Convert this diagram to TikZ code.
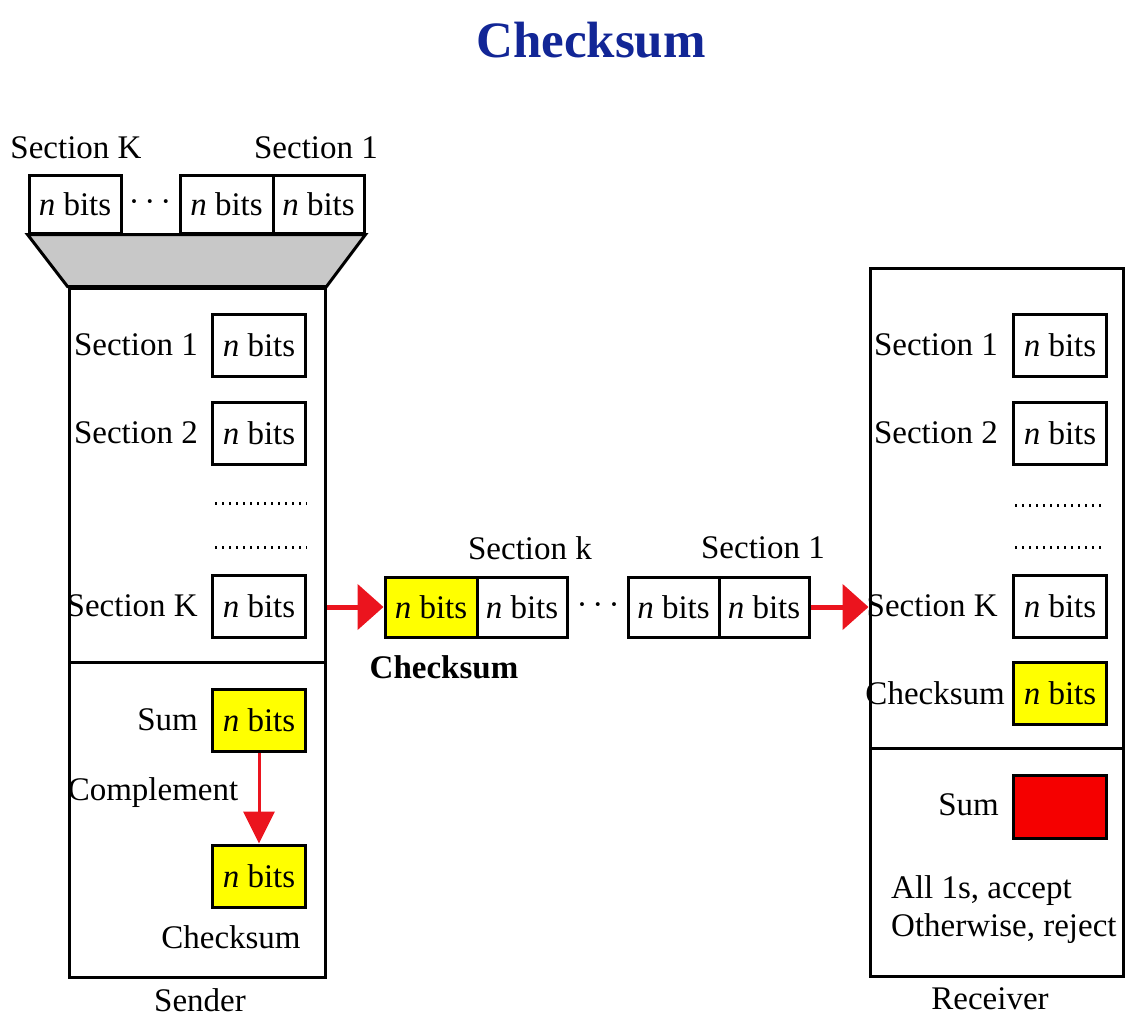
\documentclass[tikz,border=0pt]{standalone}
\usepackage{fontspec}
\setmainfont{Liberation Serif}
\usetikzlibrary{arrows.meta}

\definecolor{titleblue}{RGB}{18,38,150}
\definecolor{boxyellow}{RGB}{255,255,0}
\definecolor{arrowred}{RGB}{235,20,30}
\definecolor{sumred}{RGB}{245,0,0}
\definecolor{trapgray}{RGB}{200,200,200}

% three centred dots between sections
\newcommand{\secdots}{\char"B7\hspace{5pt}\char"B7\hspace{5pt}\char"B7}

\begin{document}
\begin{tikzpicture}[x=1pt,y=-1pt,
  every node/.style={font=\fontsize{33}{38}\selectfont, inner sep=1pt},
  bitbox/.style={draw, line width=3pt, minimum width=93pt, minimum height=62pt, inner sep=0pt},
  hibox/.style={bitbox, fill=boxyellow},
  frame/.style={draw, line width=3pt, inner sep=0pt},
  rule/.style={line width=3pt},
  dotline/.style={line width=3pt, dash pattern=on 1.5pt off 5.5pt},
  bigarrow/.style={draw=arrowred, line width=5pt, -{Triangle[length=26pt, width=45pt]}, arrowred},
  smallarrow/.style={draw=arrowred, line width=3pt, -{Triangle[length=32pt, width=31pt]}, arrowred},
  lbl/.style={anchor=east}]

\useasboundingbox (0,0) rectangle (1126,1021);

% title
\node[font=\fontsize{51}{60}\selectfont\bfseries, text=titleblue] (title) at (591,40) {Checksum};

% sender and receiver frames
\node[frame, minimum width=256pt, minimum height=689pt] (sender) at (197,632.5) {};
\node[frame, minimum width=253pt, minimum height=708pt] (receiver) at (996.5,622) {};
\draw[rule] (69,662) -- (325,662);
\draw[rule] (870,748) -- (1123,748);
\node (senderlbl) at (200,1000) {Sender};
\node (receiverlbl) at (990,999) {Receiver};

% data unit split into sections
\node[bitbox, minimum width=92pt, minimum height=58pt] (t1) at (75,204) {\textit{n} bits};
\node (tdots) at (150,206) {\secdots};
\node[bitbox, minimum width=93pt, minimum height=58pt] (t2) at (226.5,204) {\textit{n} bits};
\node[bitbox, minimum width=91pt, minimum height=58pt] (t3) at (318.5,204) {\textit{n} bits};
\node (tlk) at (76,148) {Section K};
\node (tl1) at (316,148) {Section 1};
\filldraw[fill=trapgray, rule, line join=miter]
  (t1.south west) -- (t3.south east) -- (sender.north east) -- (sender.north west) -- cycle;

% sender: sections
\node[bitbox] (s1) at (259,345) {\textit{n} bits};
\node[lbl] (s1l) at (199,345) {Section 1};
\node[bitbox] (s2) at (259,433) {\textit{n} bits};
\node[lbl] (s2l) at (199,433) {Section 2};
\draw[dotline] (215,503) -- (307,503);
\draw[dotline] (215,547) -- (307,547);
\node[bitbox] (sk) at (259,606) {\textit{n} bits};
\node[lbl] (skl) at (199,606) {Section K};

% sender: sum and complement
\node[hibox] (sum) at (259,720) {\textit{n} bits};
\node[lbl] (suml) at (199,720) {Sum};
\node[hibox] (chk) at (259,876) {\textit{n} bits};
\node (chkl) at (231,937) {Checksum};
\node (compl) at (153,793) {Complement};
\draw[smallarrow] (sum) -- (chk);

% transmitted frame
\node[hibox, minimum width=92pt, minimum height=60pt] (m1) at (431,607) {\textit{n} bits};
\node[bitbox, minimum width=90pt, minimum height=60pt] (m2) at (522,607) {\textit{n} bits};
\node (mdots) at (598,609) {\secdots};
\node[bitbox, minimum width=91pt, minimum height=60pt] (m3) at (673.5,607) {\textit{n} bits};
\node[bitbox, minimum width=90pt, minimum height=60pt] (m4) at (764,607) {\textit{n} bits};
\node (mlk) at (530,548) {Section k};
\node (ml1) at (763,548) {Section 1};
\node[font=\fontsize{33}{38}\selectfont\bfseries] (mchk) at (444,667) {Checksum};
\draw[bigarrow] (sender.east |- m1.west) -- (m1.west);
\draw[bigarrow] (m4.east) -- (receiver.west |- m4.east);

% receiver: sections
\node[bitbox] (r1) at (1060,345) {\textit{n} bits};
\node[lbl] (r1l) at (999,345) {Section 1};
\node[bitbox] (r2) at (1060,433) {\textit{n} bits};
\node[lbl] (r2l) at (999,433) {Section 2};
\draw[dotline] (1015,505) -- (1105,505);
\draw[dotline] (1015,547) -- (1105,547);
\node[bitbox] (rk) at (1060,606) {\textit{n} bits};
\node[lbl] (rkl) at (999,606) {Section K};
\node[hibox] (rchk) at (1060,693) {\textit{n} bits};
\node[lbl] (rchkl) at (1006,693) {Checksum};

% receiver: check
\node[bitbox, fill=sumred, minimum height=63pt] (rsum) at (1060,806.5) {};
\node[lbl] (rsuml) at (1000,805) {Sum};
\node[anchor=west, align=left] (verdict) at (890,910) {All 1s, accept\\Otherwise, reject};

\end{tikzpicture}
\end{document}
